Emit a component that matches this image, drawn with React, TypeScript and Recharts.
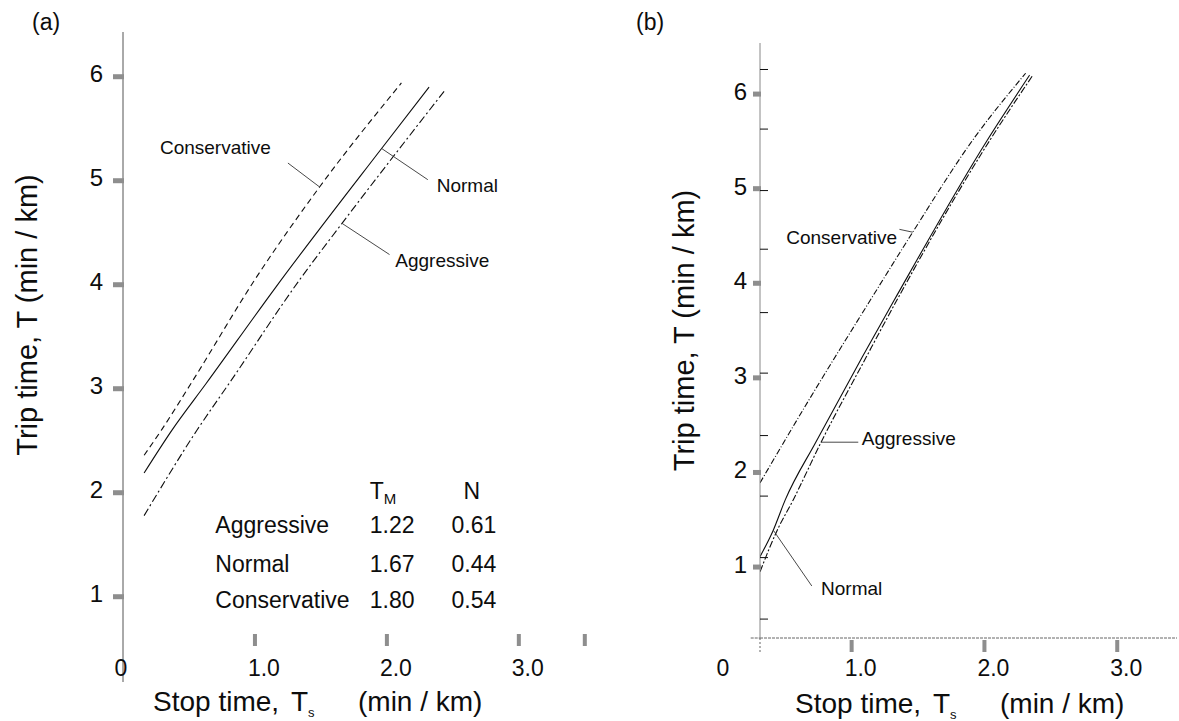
import React from "react";
import {
  LineChart,
  Line,
  XAxis,
  YAxis,
  ReferenceLine,
  ReferenceDot,
} from "recharts";

const FONT = '"Liberation Sans", Arial, Helvetica, sans-serif';
const INK = "#0d0d0d";
const TICK_GREY = "#8e8e8e";

// (a) two-fluid fits: trip time T against stop time Ts, per driver type
const stopA_aggressive = [0.16, 0.56, 0.82, 1.34, 1.66, 2.44];
const tripA_aggressive = [1.78, 2.6, 3.08, 4.05, 4.59, 5.87];
const stopA_normal = [0.16, 0.37, 0.63, 1.16, 1.96, 2.32];
const tripA_normal = [2.19, 2.6, 3.05, 3.98, 5.31, 5.9];
const stopA_conservative = [0.16, 0.29, 0.53, 1.0, 1.49, 2.11];
const tripA_conservative = [2.36, 2.6, 3.08, 4.05, 4.94, 5.94];

// (b) same three driver types, second network
const stopB_aggressive = [0.31, 0.44, 0.56, 0.77, 1.11, 1.34, 2.04, 2.36];
const tripB_aggressive = [0.95, 1.39, 1.71, 2.32, 3.22, 3.82, 5.51, 6.19];
const stopB_normal = [0.31, 0.41, 0.5, 0.73, 1.08, 1.32, 2.02, 2.34];
const tripB_normal = [1.11, 1.39, 1.71, 2.32, 3.22, 3.82, 5.51, 6.2];
const stopB_conservative = [0.31, 0.68, 1.14, 1.46, 1.91, 2.31];
const tripB_conservative = [1.89, 2.77, 3.82, 4.54, 5.51, 6.22];

// fitted parameters printed in panel (a)
const driverTypes = ["Aggressive", "Normal", "Conservative"];
const tmValues = [1.22, 1.67, 1.8];
const nValues = [0.61, 0.44, 0.54];

const tripTicks = [1, 2, 3, 4, 5, 6];
const tripMinorTicksB = [0.45, 1.1, 1.75, 2.39, 3.05, 3.69, 4.36, 4.98, 5.63, 6.26];
const stopTicksA = [0, 1, 2, 3, 3.5];
const stopTicksB = [0, 1, 2, 3];

const zip = (xs: number[], ys: number[]) => xs.map((stop, i) => ({ stop, trip: ys[i] }));

// table layout inside panel (a), in axis units
const tableRowsY = [1.69, 1.32, 0.97];
const tableHeadY = 2.02;
const tableCols = { name: 0.7, tm: 1.87, n: 2.49, nHead: 2.58 };

type TickProps = { x?: number; y?: number; payload?: { value: number } };

const textStyle = { fontFamily: FONT, fill: INK };

function makeStopTick(rectDy: number, labelDy: number, zeroDx: number, maxLabel: number) {
  return ({ x = 0, y = 0, payload }: TickProps) => {
    const v = payload?.value ?? 0;
    return (
      <g>
        {v > 0 && <rect x={x - 2} y={y + rectDy} width={4} height={12} fill={TICK_GREY} />}
        {v <= maxLabel && (
          <text x={v === 0 ? x + zeroDx : x + 9} y={y + labelDy} textAnchor="middle" fontSize={23} {...textStyle}>
            {v === 0 ? "0" : v.toFixed(1)}
          </text>
        )}
      </g>
    );
  };
}

function TripTickA({ x = 0, y = 0, payload }: TickProps) {
  return (
    <g>
      <rect x={x - 10} y={y - 2.5} width={11} height={5} fill={TICK_GREY} />
      <text x={x - 20} y={y + 5} textAnchor="end" fontSize={24} {...textStyle}>
        {payload?.value}
      </text>
    </g>
  );
}

function TripTickB({ x = 0, y = 0, payload }: TickProps) {
  const v = payload?.value ?? 0;
  if (!tripTicks.includes(v)) {
    return <line x1={x} x2={x + 8} y1={y} y2={y} stroke={INK} strokeWidth={1} />;
  }
  return (
    <g>
      <rect x={x - 7} y={y - 2.5} width={8} height={5} fill={TICK_GREY} />
      <text x={x - 13} y={y + 6} textAnchor="end" fontSize={24} {...textStyle}>
        {v}
      </text>
    </g>
  );
}

function StopTitle({ viewBox, lead, drop }: any) {
  const x0 = (viewBox?.x ?? 0) + lead;
  const y0 = (viewBox?.y ?? 0) + drop;
  return (
    <text x={x0} y={y0} fontSize={28} {...textStyle}>
      <tspan>Stop time,</tspan>
      <tspan x={x0 + 138}>T</tspan>
      <tspan fontSize={13} dy={6}>s</tspan>
      <tspan x={x0 + 205} dy={-6}>(min / km)</tspan>
    </text>
  );
}

function TripTitle({ viewBox, dx, lift }: any) {
  const x = (viewBox?.x ?? 0) + (viewBox?.width ?? 0) + dx;
  const y = (viewBox?.y ?? 0) + (viewBox?.height ?? 0) / 2 - lift;
  return (
    <text
      x={x}
      y={y}
      transform={`rotate(-90 ${x} ${y})`}
      textAnchor="middle"
      dominantBaseline="central"
      fontSize={29}
      {...textStyle}
    >
      Trip time, T (min / km)
    </text>
  );
}

function TmHead({ viewBox }: any) {
  const x = viewBox?.x ?? 0;
  const y = (viewBox?.y ?? 0) + 8;
  return (
    <text x={x} y={y} fontSize={23} {...textStyle}>
      T<tspan fontSize={15} dy={5}>M</tspan>
    </text>
  );
}

const note = (value: string, size = 19) => ({
  value,
  position: "center" as const,
  fontSize: size,
  fill: INK,
  fontFamily: FONT,
});

const cell = (value: string) => ({
  value,
  position: "right" as const,
  offset: 0,
  fontSize: 23,
  fill: INK,
  fontFamily: FONT,
});

const lineProps = {
  dataKey: "trip",
  type: "monotone" as const,
  stroke: INK,
  strokeWidth: 1.1,
  dot: false,
  isAnimationActive: false,
};

const leader = { stroke: "#333", strokeWidth: 0.9, ifOverflow: "visible" as const };

export default function App() {
  return (
    <div
      style={{
        position: "absolute",
        left: 0,
        top: 0,
        width: 1179,
        height: 721,
        background: "#fff",
        overflow: "hidden",
        fontFamily: FONT,
      }}
    >
      <div style={{ position: "absolute", left: 32, top: 9, fontSize: 23, color: INK }}>(a)</div>
      <div style={{ position: "absolute", left: 636, top: 9, fontSize: 23, color: INK }}>(b)</div>

      {/* panel (a) */}
      <div style={{ position: "absolute", left: 0, top: 0 }}>
        <LineChart width={600} height={721} margin={{ top: 32, right: 2, bottom: 0, left: 63 }}>
          <XAxis
            dataKey="stop"
            type="number"
            domain={[0, 3.6]}
            allowDataOverflow
            ticks={stopTicksA}
            interval={0}
            axisLine={false}
            tickLine={false}
            tickSize={0}
            tickMargin={0}
            height={39}
            tick={makeStopTick(-48, -6, -2, 3)}
            label={<StopTitle lead={30} drop={29} />}
          />
          <YAxis
            type="number"
            domain={[0.18, 6.43]}
            allowDataOverflow
            ticks={tripTicks}
            interval={0}
            width={60}
            axisLine={{ stroke: "#555", strokeWidth: 1 }}
            tickLine={false}
            tickSize={0}
            tickMargin={0}
            tick={TripTickA}
            label={<TripTitle dx={-96} lift={42} />}
          />
          <Line {...lineProps} data={zip(stopA_conservative, tripA_conservative)} strokeDasharray="6 4" />
          <Line {...lineProps} data={zip(stopA_normal, tripA_normal)} />
          <Line {...lineProps} data={zip(stopA_aggressive, tripA_aggressive)} strokeDasharray="8 3 2 3" />

          <ReferenceLine segment={[{ x: 1.25, y: 5.17 }, { x: 1.49, y: 4.94 }]} {...leader} />
          <ReferenceLine segment={[{ x: 2.31, y: 5.01 }, { x: 1.96, y: 5.31 }]} {...leader} />
          <ReferenceLine segment={[{ x: 2.02, y: 4.29 }, { x: 1.66, y: 4.59 }]} {...leader} />
          <ReferenceDot x={0.7} y={5.32} r={0} stroke="none" fill="none" label={note("Conservative")} />
          <ReferenceDot x={2.61} y={4.96} r={0} stroke="none" fill="none" label={note("Normal")} />
          <ReferenceDot x={2.42} y={4.24} r={0} stroke="none" fill="none" label={note("Aggressive")} />

          <ReferenceDot x={tableCols.tm} y={tableHeadY} r={0} stroke="none" fill="none" label={<TmHead />} />
          <ReferenceDot x={tableCols.nHead} y={tableHeadY} r={0} stroke="none" fill="none" label={cell("N")} />
          {driverTypes.map((name, i) => (
            <ReferenceDot key={`name-${name}`} x={tableCols.name} y={tableRowsY[i]} r={0} stroke="none" fill="none" label={cell(name)} />
          ))}
          {tmValues.map((v, i) => (
            <ReferenceDot key={`tm-${i}`} x={tableCols.tm} y={tableRowsY[i]} r={0} stroke="none" fill="none" label={cell(v.toFixed(2))} />
          ))}
          {nValues.map((v, i) => (
            <ReferenceDot key={`n-${i}`} x={tableCols.n} y={tableRowsY[i]} r={0} stroke="none" fill="none" label={cell(v.toFixed(2))} />
          ))}
        </LineChart>
      </div>

      {/* panel (b) */}
      <div style={{ position: "absolute", left: 600, top: 0 }}>
        <LineChart width={579} height={721} margin={{ top: 43, right: 2, bottom: 0, left: 40 }}>
          <XAxis
            dataKey="stop"
            type="number"
            domain={[0.31, 3.45]}
            allowDataOverflow
            ticks={stopTicksB}
            interval={0}
            axisLine={{ stroke: "#666", strokeWidth: 1, strokeDasharray: "3 1" }}
            tickLine={false}
            tickSize={0}
            tickMargin={0}
            height={83}
            tick={makeStopTick(2, 38, 4, 3)}
            label={<StopTitle lead={35} drop={75} />}
          />
          <YAxis
            type="number"
            domain={[0.25, 6.54]}
            allowDataOverflow
            ticks={[...tripTicks, ...tripMinorTicksB]}
            interval={0}
            width={120}
            axisLine={{ stroke: "#888", strokeWidth: 1 }}
            tickLine={false}
            tickSize={0}
            tickMargin={0}
            tick={TripTickB}
            label={<TripTitle dx={-76} lift={10} />}
          />
          {/* axis stubs running past the origin corner */}
          <ReferenceLine
            segment={[{ x: 0.31, y: 0.25 }, { x: 0.31, y: 0.1 }]}
            stroke="#666"
            strokeDasharray="2 2"
            ifOverflow="visible"
          />
          <ReferenceLine
            segment={[{ x: 0.24, y: 0.25 }, { x: 0.31, y: 0.25 }]}
            stroke="#666"
            strokeDasharray="3 1"
            ifOverflow="visible"
          />
          <Line {...lineProps} data={zip(stopB_conservative, tripB_conservative)} strokeDasharray="6 2 1 2" />
          <Line {...lineProps} data={zip(stopB_normal, tripB_normal)} />
          <Line {...lineProps} data={zip(stopB_aggressive, tripB_aggressive)} strokeDasharray="7 2 2 2" />

          <ReferenceLine segment={[{ x: 1.36, y: 4.57 }, { x: 1.46, y: 4.54 }]} {...leader} />
          <ReferenceLine segment={[{ x: 0.77, y: 2.32 }, { x: 1.05, y: 2.32 }]} {...leader} />
          <ReferenceLine segment={[{ x: 0.41, y: 1.39 }, { x: 0.7, y: 0.8 }]} {...leader} />
          <ReferenceDot x={0.925} y={4.49} r={0} stroke="none" fill="none" label={note("Conservative")} />
          <ReferenceDot x={1.43} y={2.36} r={0} stroke="none" fill="none" label={note("Aggressive")} />
          <ReferenceDot x={1.0} y={0.78} r={0} stroke="none" fill="none" label={note("Normal")} />
        </LineChart>
      </div>
    </div>
  );
}
